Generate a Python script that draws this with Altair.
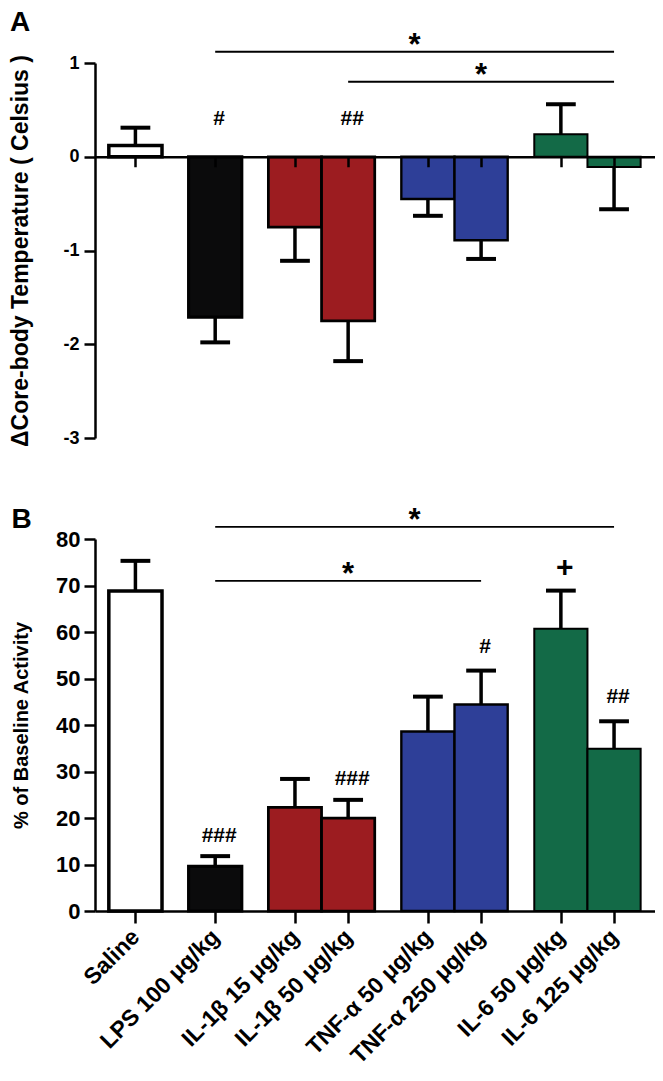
import altair as alt
import pandas as pd

# ---------------- data ----------------
labels = ["Saline", "LPS 100 μg/kg", "IL-1β 15 μg/kg", "IL-1β 50 μg/kg",
          "TNF-α 50 μg/kg", "TNF-α 250 μg/kg", "IL-6 50 μg/kg", "IL-6 125 μg/kg"]
groups = ["Saline", "LPS", "IL-1β", "IL-1β", "TNF-α", "TNF-α", "IL-6", "IL-6"]

temp_mean = [0.12, -1.71, -0.75, -1.75, -0.45, -0.89, 0.24, -0.11]
temp_sem = [0.19, 0.27, 0.36, 0.43, 0.18, 0.20, 0.32, 0.45]

act_mean = [68.8, 9.6, 22.3, 20.0, 38.6, 44.4, 60.7, 34.9]
act_sem = [6.5, 2.2, 6.1, 3.9, 7.5, 7.3, 8.2, 5.9]

group_names = ["Saline", "LPS", "IL-1β", "TNF-α", "IL-6"]
group_colors = ["#ffffff", "#0b0b0c", "#9c1c20", "#2e3f98", "#136a47"]

# significance brackets (from, to, level, text)
sigA_from = ["LPS 100 μg/kg", "IL-1β 50 μg/kg"]
sigA_to = ["IL-6 125 μg/kg", "IL-6 125 μg/kg"]
sigA_level = [1.12, 0.80]
sigA_text = ["*", "*"]

sigB_from = ["LPS 100 μg/kg", "LPS 100 μg/kg"]
sigB_to = ["IL-6 125 μg/kg", "TNF-α 250 μg/kg"]
sigB_level = [82.6, 71.0]
sigB_text = ["*", "*"]

# per-bar annotations
annA_label = ["LPS 100 μg/kg", "IL-1β 50 μg/kg"]
annA_text = ["#", "##"]
annA_level = [0.40, 0.40]

annB_label = ["LPS 100 μg/kg", "IL-1β 50 μg/kg", "TNF-α 250 μg/kg", "IL-6 50 μg/kg", "IL-6 125 μg/kg"]
annB_text = ["###", "###", "#", "+", "##"]
annB_level = [16.1, 28.4, 56.8, 73.8, 46.0]

# ---------------- layout helpers ----------------
GAP = 0.5       # gap between groups, in bar widths
CAP = 0.28      # half width of error-bar caps, in bar widths
pos = []
p = 0.0
for i, g in enumerate(groups):
    if i > 0:
        p += 1.0 + (GAP if g != groups[i - 1] else 0.0)
    pos.append(p)
pos_of = dict(zip(labels, pos))

XDOM = [-0.76, 9.77]
FONT = "Liberation Sans"


def bar_table(mean, sem):
    df = pd.DataFrame({"label": labels, "group": groups, "pos": pos, "mean": mean, "sem": sem})
    df["cap"] = [m + (s if m >= 0 else -s) for m, s in zip(mean, sem)]
    df["x0"] = df["pos"] - 0.5
    df["x1"] = df["pos"] + 0.5
    df["c0"] = df["pos"] - CAP
    df["c1"] = df["pos"] + CAP
    return df


def sig_table(f, t, lev, txt):
    return pd.DataFrame({"xa": [pos_of[a] for a in f], "xb": [pos_of[b] for b in t],
                         "xm": [(pos_of[a] + pos_of[b]) / 2 for a, b in zip(f, t)],
                         "level": lev, "text": txt})


def ann_table(lab, txt, lev):
    return pd.DataFrame({"xm": [pos_of[a] for a in lab], "level": lev, "text": txt})


def panel(df, sig, ann, ydom, yvals, ytitle, width, height, xaxis, yaxis_kw, letter, letter_offset):
    xs = alt.Scale(domain=XDOM, nice=False, zero=False)
    ys = alt.Scale(domain=ydom, nice=False, zero=False)
    base = alt.Chart(df)
    bars = base.mark_rect(stroke="black").encode(
        x=alt.X("x0:Q", scale=xs, axis=xaxis, title=None),
        x2="x1:Q",
        y=alt.Y("mean:Q", scale=ys, title=ytitle,
                axis=alt.Axis(values=yvals, labelExpr="'' + datum.value", **yaxis_kw)),
        y2=alt.datum(0),
        fill=alt.Fill("group:N", scale=alt.Scale(domain=group_names, range=group_colors), legend=None),
        strokeWidth=alt.StrokeWidth("group:N", scale=alt.Scale(domain=group_names, range=[3.5, 2, 2, 2, 2]),
                                    legend=None),
    )
    err = base.mark_rule(color="black", strokeWidth=3.5).encode(
        x=alt.X("pos:Q", scale=xs), y=alt.Y("mean:Q", scale=ys), y2="cap:Q")
    caps = base.mark_rule(color="black", strokeWidth=4).encode(
        x=alt.X("c0:Q", scale=xs), x2="c1:Q", y=alt.Y("cap:Q", scale=ys))
    sbase = alt.Chart(sig)
    slines = sbase.mark_rule(color="black", strokeWidth=1.8, clip=False).encode(
        x=alt.X("xa:Q", scale=xs), x2="xb:Q", y=alt.Y("level:Q", scale=ys))
    stars = sbase.mark_text(font=FONT, fontWeight="bold", fontSize=31, baseline="alphabetic",
                            dy=3, color="black").encode(
        x=alt.X("xm:Q", scale=xs), y=alt.Y("level:Q", scale=ys), text="text:N")
    anns = alt.Chart(ann).mark_text(font=FONT, fontWeight="bold", baseline="middle",
                                    dx=4, color="black").encode(
        x=alt.X("xm:Q", scale=xs), y=alt.Y("level:Q", scale=ys), text="text:N",
        size=alt.condition(alt.datum.text == "+", alt.value(30), alt.value(21)))
    return alt.layer(bars, err, caps, slines, stars, anns).properties(
        width=width, height=height,
        title=alt.TitleParams(letter, anchor="start", frame="bounds", fontSize=28, font=FONT,
                              fontWeight="bold", color="black", offset=letter_offset),
    )


dfA = bar_table(temp_mean, temp_sem)
dfB = bar_table(act_mean, act_sem)

W = 560
HA, HB = 375, 372
yA = [-3, 1]
yB = [0, 80]

label_expr = " : ".join(f"datum.value == {p} ? '{l}'" for p, l in zip(pos, labels)) + " : ''"

# x axis of panel A crosses at zero: shift it up from the bottom edge
zero_shift = HA * (0 - yA[0]) / (yA[1] - yA[0])
xaxisA = alt.Axis(values=pos, labels=False, tickSize=10, tickWidth=2.5, domainWidth=2.5,
                  offset=-zero_shift, zindex=1, grid=False,
                  domainColor="black", tickColor="black")
xaxisB = alt.Axis(values=pos, labelExpr=label_expr, labelAngle=-45, labelAlign="right",
                  labelBaseline="middle", labelFontSize=23, labelPadding=10, labelOverlap=False,
                  labelFlush=False, labelBound=False, tickSize=12, tickWidth=2.5, domainWidth=2.5,
                  grid=False, zindex=1, domainColor="black", tickColor="black")

ykwA = dict(tickSize=11, tickWidth=2.5, domainWidth=2.5, labelFontSize=18, labelPadding=5,
            titleFontSize=23, titlePadding=30, grid=False, domainColor="black", tickColor="black")
ykwB = dict(tickSize=11, tickWidth=2.5, domainWidth=2.5, labelFontSize=22, labelPadding=4,
            titleFontSize=20, titlePadding=24, grid=False, domainColor="black", tickColor="black")

chartA = panel(dfA, sig_table(sigA_from, sigA_to, sigA_level, sigA_text),
               ann_table(annA_label, annA_text, annA_level),
               yA, [-3, -2, -1, 0, 1], "ΔCore-body Temperature ( Celsius )", W, HA, xaxisA, ykwA, "A", -7)
chartB = panel(dfB, sig_table(sigB_from, sigB_to, sigB_level, sigB_text),
               ann_table(annB_label, annB_text, annB_level),
               yB, list(range(0, 81, 10)), "% of Baseline Activity", W, HB, xaxisB, ykwB, "B", -29)

chart = alt.concat(chartA, chartB, columns=1, spacing=57).properties(
    padding={"top": 0, "left": 1, "right": 0, "bottom": 0}
).configure_view(stroke=None).configure_axis(
    labelFont=FONT, titleFont=FONT, labelFontWeight="bold", titleFontWeight="bold",
    labelColor="black", titleColor="black"
)

chart.save("out.html", embed_options={"renderer": "svg", "actions": False})
